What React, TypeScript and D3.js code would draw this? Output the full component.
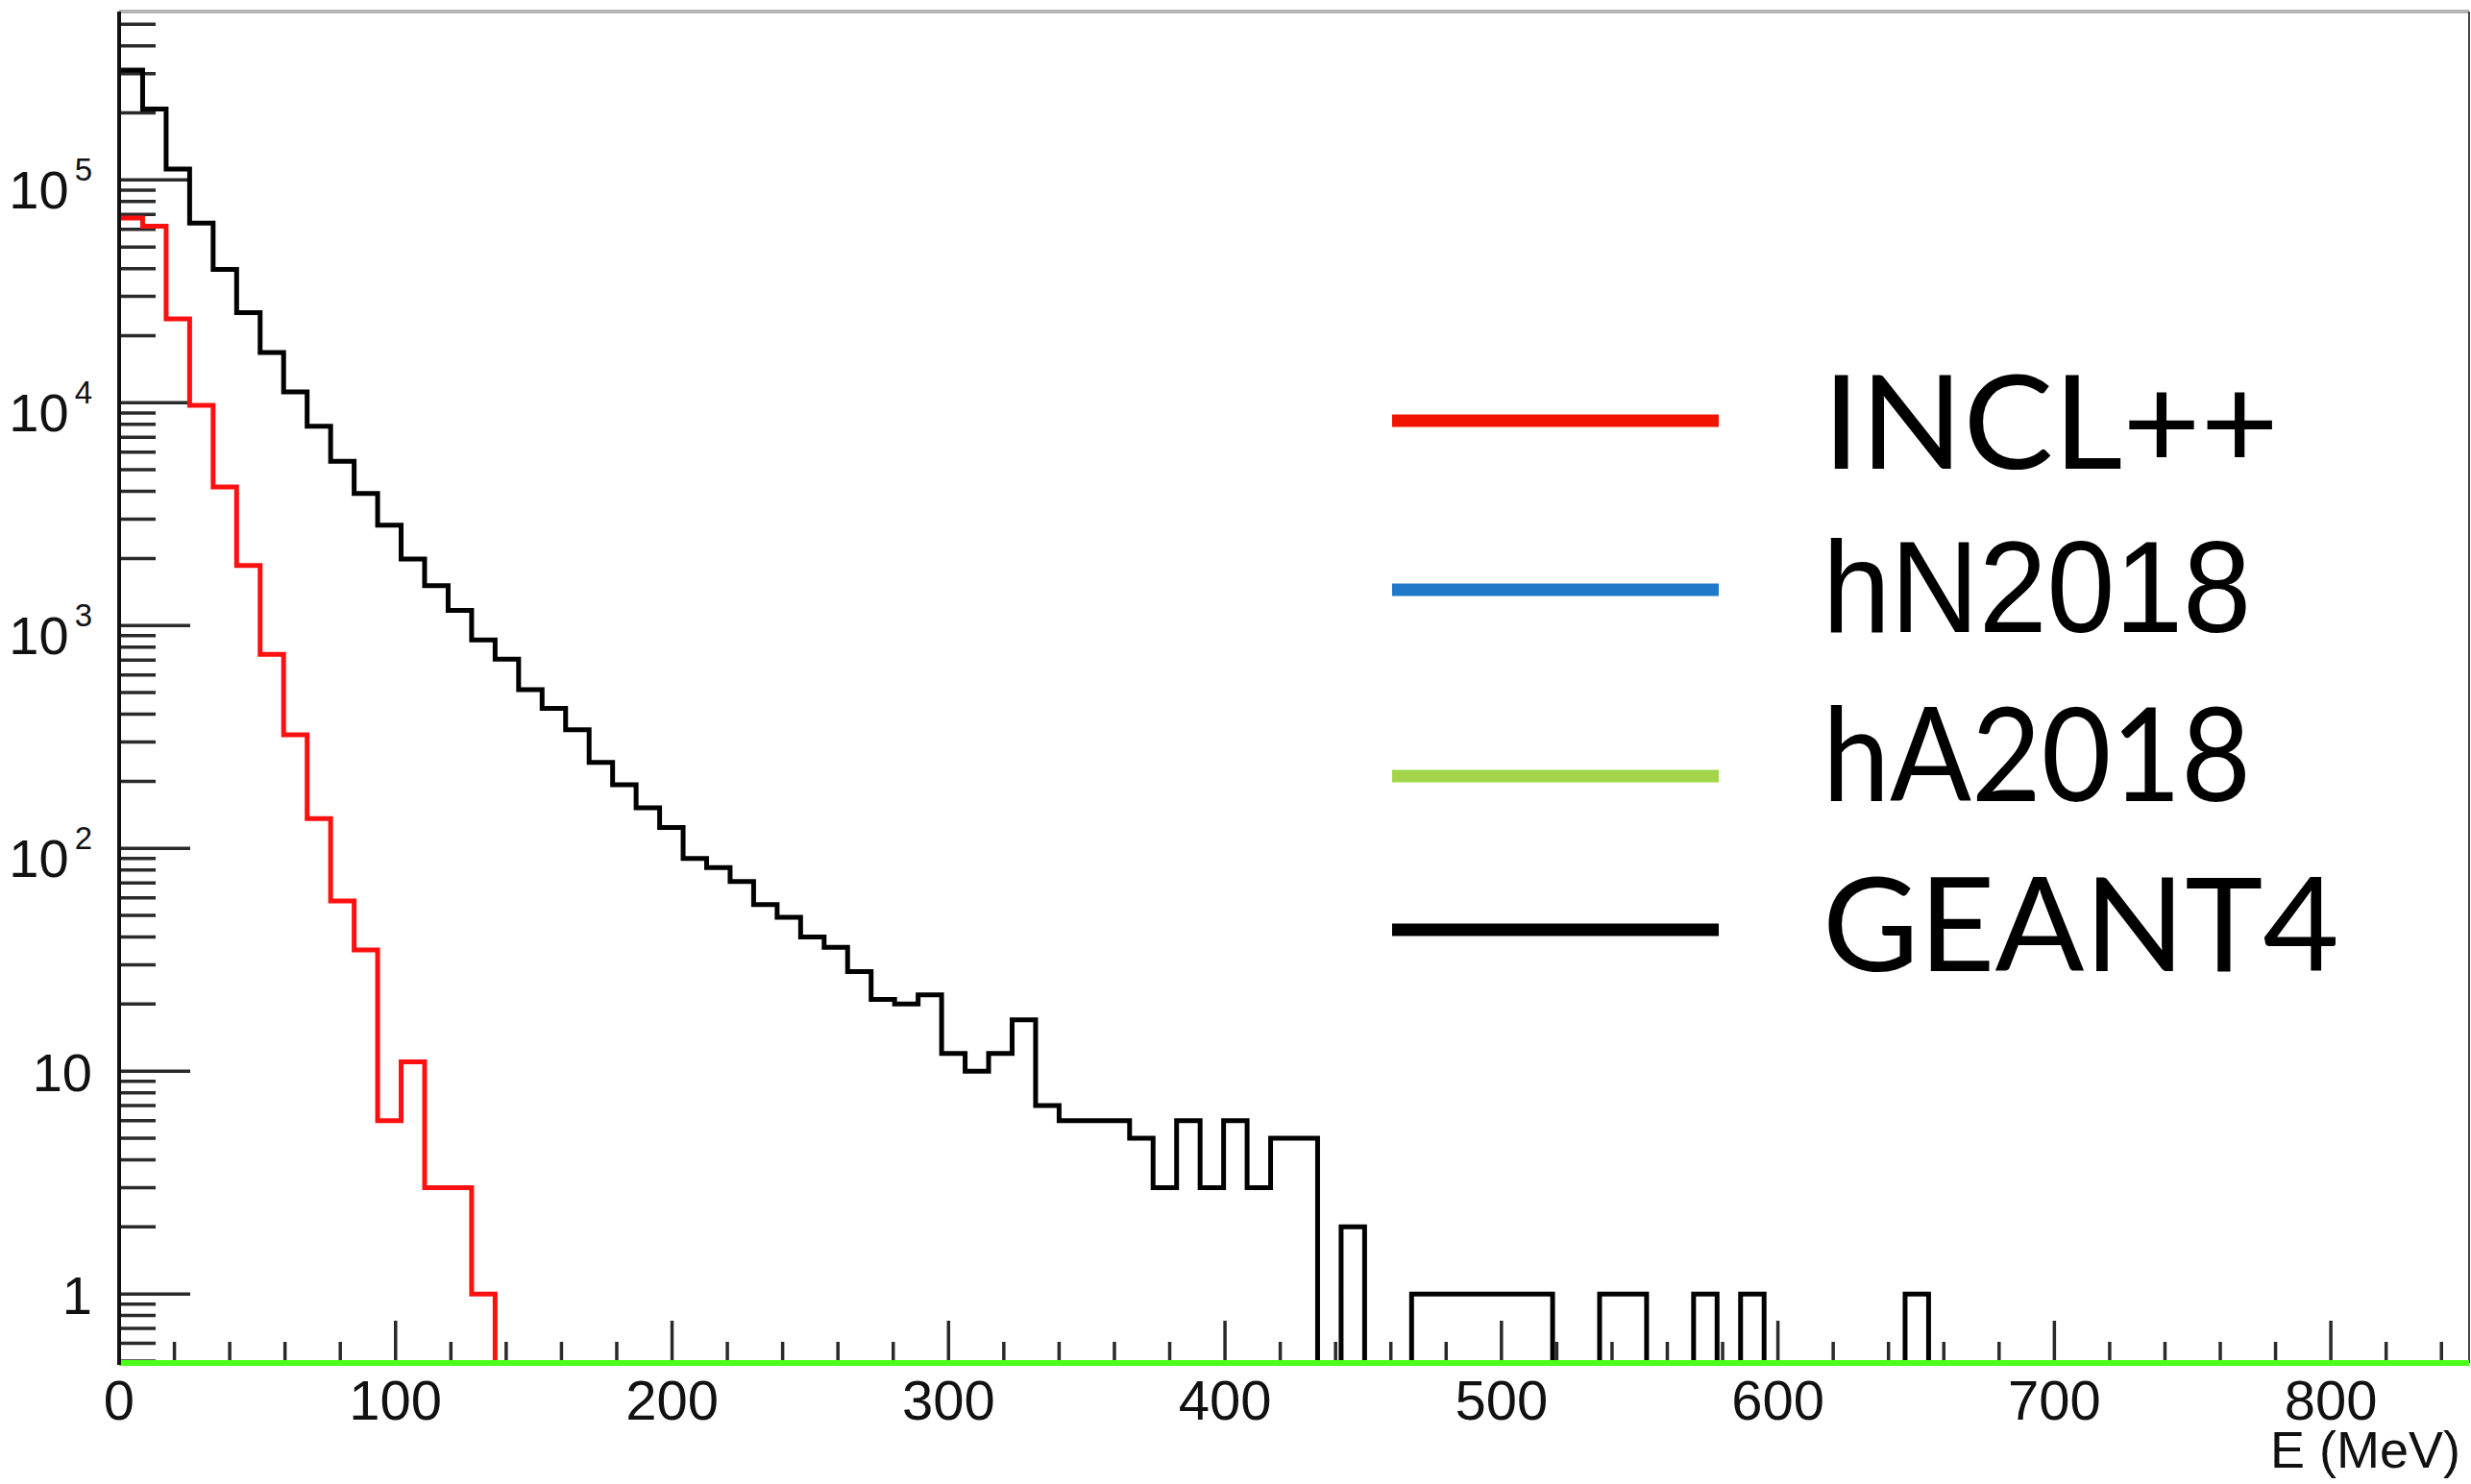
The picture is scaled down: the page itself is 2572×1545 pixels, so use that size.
import * as d3 from "d3";

// histogram binning (MeV)
const binWidth = 8.5;
const nBins = 100;
const xMax = 850;
const yMin = 0.49;
const yMax = 5.7e5;

// bin contents, starting at bin 0 (0-8.5 MeV); missing bins are empty
const inclCounts = [
  67400, 62000, 23800, 9730, 4190, 1860, 743, 323, 136, 58, 35, 6, 11, 3, 3, 1,
];
const hN2018Counts: number[] = [];
const hA2018Counts: number[] = [];
const geant4Counts = [
  311000, 208000, 112000, 64000, 39700, 25400, 16800, 11200, 7850, 5460,
  3920, 2820, 1990, 1510, 1170, 861, 706, 516, 425, 341,
  243, 193, 152, 124, 90, 82, 71, 56, 49, 40,
  36, 28, 21, 20, 22, 12, 10, 12, 17, 7,
  6, 6, 6, 5, 3, 6, 3, 6, 3, 5,
  5, 0, 2, 0, 0, 1, 1, 1, 1, 1,
  1, 0, 0, 1, 1, 0, 0, 1, 0, 1,
  0, 0, 0, 0, 0, 0, 1,
];

const legendNames = ["INCL++", "hN2018", "hA2018", "GEANT4"];
const legendColors = ["#f21400", "#1f78c8", "#a3d54b", "#000000"];
const lineColors = ["#ff1010", "#1f78c8", "#4cff1a", "#000000"];

const xTicks = [0, 100, 200, 300, 400, 500, 600, 700, 800];
const yDecades = [1, 10, 100, 1000, 10000, 100000];
const yLabelBase = ["1", "10", "10", "10", "10", "10"];
const yLabelExp = ["", "", "2", "3", "4", "5"];

const W = 2572;
const H = 1545;

export default function App() {
  const x = d3.scaleLinear().domain([0, xMax]).range([124, 2570]);
  const y = d3.scaleLog().domain([yMin, yMax]).range([1419, 12]);
  const yFloor = y(yMin);
  const x0 = x(0);
  const xEnd = x(xMax);

  const histPath = (counts: number[]) => {
    const pts: [number, number][] = [];
    for (let i = 0; i < nBins; i++) {
      const v = counts[i] ?? 0;
      const yy = v > 0 ? y(v) : yFloor;
      pts.push([x(i * binWidth), yy], [x((i + 1) * binWidth), yy]);
    }
    pts.push([x(nBins * binWidth), yFloor]);
    return d3.line()(pts) || "";
  };

  // minor ticks on the log axis
  const yMinor: number[] = [];
  for (let e = -1; e <= 5; e++) {
    for (let m = 2; m <= 9; m++) {
      const v = m * Math.pow(10, e);
      if (v > yMin && v < yMax) yMinor.push(v);
    }
  }
  const xMinor = d3.range(0, xMax + 1, 20).filter((v) => v % 100 !== 0);

  const font = "'Liberation Sans', Arial, Helvetica, sans-serif";
  const legendFonts = ["Lato", "'Liberation Sans'", "Lato", "Lato"];
  const legendY = [438, 614, 808, 968];
  const legendBase = [488, 658, 834, 1011];
  const legendLen = [475, 446, 446, 538];

  const seriesCounts = [inclCounts, hN2018Counts, hA2018Counts, geant4Counts];
  const drawOrder = [3, 0, 1, 2];

  return (
    <div style={{ position: "absolute", left: 0, top: 0 }}>
      <svg width={W} height={H} style={{ display: "block", background: "#fff" }}>
        {/* frame */}
        <line x1={x0} x2={xEnd} y1={12} y2={12} stroke="#b4b4b4" strokeWidth={4} />
        <line x1={xEnd} x2={xEnd} y1={12} y2={yFloor} stroke="#444" strokeWidth={2} />

        {/* y ticks */}
        {yMinor.map((v) => (
          <line key={"ym" + v} x1={x0} x2={x0 + 38} y1={y(v)} y2={y(v)} stroke="#2a2a2a" strokeWidth={3.5} />
        ))}
        {yDecades.map((v) => (
          <line key={"yM" + v} x1={x0} x2={x0 + 74} y1={y(v)} y2={y(v)} stroke="#2a2a2a" strokeWidth={3.5} />
        ))}
        {yDecades.map((v, i) => (
          <text
            key={"yl" + v}
            x={96}
            y={y(v) + (yLabelExp[i] ? 30 : 21)}
            textAnchor="end"
            fontFamily={font}
            fontSize={56}
            fill="#111"
          >
            {yLabelBase[i]}
            {yLabelExp[i] && (
              <tspan fontSize={33} dy={-29} dx={6}>
                {yLabelExp[i]}
              </tspan>
            )}
          </text>
        ))}

        {/* x ticks */}
        {xMinor.map((v) => (
          <line key={"xm" + v} x1={x(v)} x2={x(v)} y1={yFloor} y2={yFloor - 22} stroke="#2a2a2a" strokeWidth={3.5} />
        ))}
        {xTicks.map((v) => (
          <line key={"xM" + v} x1={x(v)} x2={x(v)} y1={yFloor} y2={yFloor - 44} stroke="#2a2a2a" strokeWidth={3.5} />
        ))}
        {xTicks.map((v) => (
          <text
            key={"xl" + v}
            x={x(v)}
            y={1478}
            textAnchor="middle"
            fontFamily={font}
            fontSize={58}
            fill="#111"
          >
            {v}
          </text>
        ))}
        <text x={2363} y={1528} fontFamily={font} fontSize={54} fill="#111">
          E (MeV)
        </text>

        {/* histograms */}
        {drawOrder.map((i) => (
          <path
            key={"h" + i}
            d={histPath(seriesCounts[i])}
            fill="none"
            stroke={lineColors[i]}
            strokeWidth={i === 2 ? 6 : 5}
            strokeLinejoin="miter"
          />
        ))}

        {/* y axis line */}
        <line x1={x0} x2={x0} y1={12} y2={yFloor + 2} stroke="#111" strokeWidth={4} />

        {/* legend */}
        {legendNames.map((name, i) => (
          <g key={"lg" + name}>
            <line x1={1449} x2={1789} y1={legendY[i]} y2={legendY[i]} stroke={legendColors[i]} strokeWidth={13} />
            <text
              x={1897}
              y={legendBase[i]}
              fontFamily={legendFonts[i]}
              fontSize={136}
              textLength={legendLen[i]}
              lengthAdjust="spacingAndGlyphs"
              fill="#000"
            >
              {name}
            </text>
          </g>
        ))}
      </svg>
    </div>
  );
}
